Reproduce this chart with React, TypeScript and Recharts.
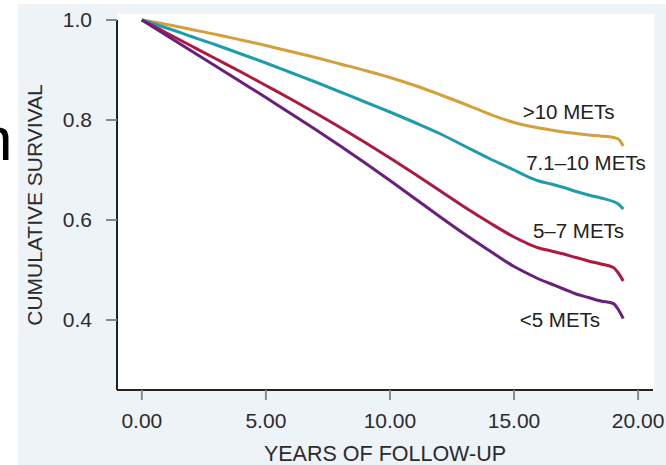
import React from 'react';
import { LineChart, Line, XAxis, YAxis, ReferenceDot } from 'recharts';

const years = [0, 1, 2, 3, 4, 5, 6, 7, 8, 9, 10, 11, 12, 13, 14, 15, 15.5, 16, 16.5, 17, 17.5, 18, 18.5, 19, 19.2, 19.4];
const over10 = [1.0, 0.991, 0.981, 0.971, 0.96, 0.949, 0.937, 0.925, 0.912, 0.899, 0.885, 0.869, 0.851, 0.832, 0.812, 0.795, 0.789, 0.784, 0.78, 0.776, 0.773, 0.77, 0.768, 0.765, 0.762, 0.748];
const mid71to10 = [1.0, 0.984, 0.967, 0.95, 0.932, 0.914, 0.895, 0.876, 0.856, 0.836, 0.816, 0.795, 0.773, 0.748, 0.723, 0.7, 0.688, 0.678, 0.672, 0.665, 0.657, 0.65, 0.644, 0.637, 0.632, 0.622];
const mid5to7 = [1.0, 0.974, 0.948, 0.922, 0.896, 0.869, 0.842, 0.814, 0.785, 0.755, 0.724, 0.692, 0.659, 0.626, 0.595, 0.566, 0.554, 0.544, 0.538, 0.532, 0.525, 0.518, 0.512, 0.505, 0.494, 0.478];
const under5 = [1.0, 0.969, 0.938, 0.907, 0.876, 0.845, 0.813, 0.781, 0.748, 0.714, 0.679, 0.643, 0.607, 0.572, 0.539, 0.507, 0.494, 0.482, 0.472, 0.462, 0.452, 0.445, 0.438, 0.433, 0.421, 0.403];

const xTicks = [0, 5, 10, 15, 20];
const yTicks = [0.4, 0.6, 0.8, 1.0];

const seriesLabels = [
  { text: '>10 METs', x: 17.2, y: 0.816 },
  { text: '7.1\u201310 METs', x: 17.9, y: 0.714 },
  { text: '5\u20137 METs', x: 17.6, y: 0.578 },
  { text: '<5 METs', x: 16.85, y: 0.4 },
];

const data = years.map((year, i) => ({
  year,
  over10: over10[i],
  mid71to10: mid71to10[i],
  mid5to7: mid5to7[i],
  under5: under5[i],
}));

const FONT = '"Liberation Sans", Arial, sans-serif';
const TEXT = '#2b2b2b';

export default function App() {
  return (
    <div style={{ position: 'absolute', left: 0, top: 0, width: 666, height: 465, background: '#ffffff', overflow: 'hidden' }}>
      <div style={{ position: 'absolute', left: 18, top: 4, width: 648, height: 461, background: '#eef3f8' }} />
      <div style={{ position: 'absolute', left: 117, top: 14, width: 537, height: 376, background: '#ffffff' }} />
      <div style={{ position: 'absolute', left: 0, top: 0 }}>
        <LineChart
          width={666}
          height={465}
          data={data}
          margin={{ top: 20, right: 13, left: 0, bottom: 0 }}
          style={{ fontFamily: FONT }}
        >
          <text x={-22} y={160} fontSize={62} fill="#000" style={{ fontFamily: FONT }}>n</text>
          <XAxis
            dataKey="year"
            type="number"
            domain={[-1, 20.6]}
            ticks={xTicks}
            tickFormatter={(v: number) => v.toFixed(2)}
            height={75}
            tickSize={10}
            tickMargin={13}
            axisLine={{ stroke: '#222', strokeWidth: 2 }}
            tickLine={{ stroke: '#888', strokeWidth: 2 }}
            tick={{ fontSize: 21, fill: TEXT, fontFamily: FONT }}
            label={{ value: 'YEARS OF FOLLOW-UP', position: 'insideBottom', offset: 4, fontSize: 21.5, fill: TEXT, fontFamily: FONT }}
          />
          <YAxis
            type="number"
            domain={[0.26, 1.0]}
            ticks={yTicks}
            tickFormatter={(v: number) => v.toFixed(1)}
            width={117}
            tickSize={11}
            tickMargin={14}
            axisLine={{ stroke: '#222', strokeWidth: 2 }}
            tickLine={{ stroke: '#888', strokeWidth: 2 }}
            tick={{ fontSize: 21, fill: TEXT, fontFamily: FONT }}
            label={{ value: 'CUMULATIVE SURVIVAL', angle: -90, position: 'insideLeft', offset: 35, fontSize: 21, fill: TEXT, fontFamily: FONT, style: { textAnchor: 'middle' } }}
          />
          <Line type="monotone" dataKey="over10" stroke="#d4a03e" strokeWidth={3} dot={false} isAnimationActive={false} />
          <Line type="monotone" dataKey="mid71to10" stroke="#1f9bae" strokeWidth={3} dot={false} isAnimationActive={false} />
          <Line type="monotone" dataKey="mid5to7" stroke="#b0193f" strokeWidth={3} dot={false} isAnimationActive={false} />
          <Line type="monotone" dataKey="under5" stroke="#6a1f7c" strokeWidth={3} dot={false} isAnimationActive={false} />
          {seriesLabels.map((l) => (
            <ReferenceDot
              key={l.text}
              x={l.x}
              y={l.y}
              r={0}
              fill="none"
              stroke="none"
              label={{ value: l.text, position: 'center', fontSize: 20.5, fill: '#222', fontFamily: FONT }}
            />
          ))}
        </LineChart>
      </div>
    </div>
  );
}
